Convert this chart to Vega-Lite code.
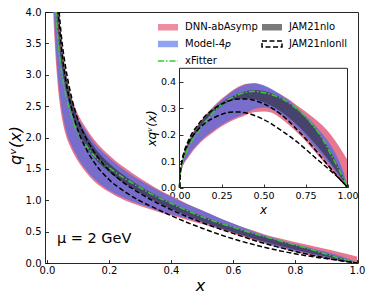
{
  "$schema": "https://vega.github.io/schema/vega-lite/v6.json",
  "width": 313,
  "height": 251,
  "autosize": "none",
  "padding": {"left": 45, "top": 12, "right": 16, "bottom": 36},
  "datasets": {
    "main": [
      {"x": 0.015, "pLo": 4.8, "pHi": 6.13, "bLo": 5.07, "bHi": 5.8, "jLo": 5.87, "jHi": 6.67, "nLo": 6.67, "nHi": 6.87, "g": 5.67},
      {"x": 0.02, "pLo": 4.0, "pHi": 5.25, "bLo": 4.25, "bHi": 4.95, "jLo": 5.0, "jHi": 5.7, "nLo": 5.65, "nHi": 5.85, "g": 4.85},
      {"x": 0.025, "pLo": 3.5, "pHi": 4.7, "bLo": 3.7, "bHi": 4.46, "jLo": 4.4, "jHi": 5.08, "nLo": 5.0, "nHi": 5.2, "g": 4.28},
      {"x": 0.03, "pLo": 3.12, "pHi": 4.27, "bLo": 3.29, "bHi": 4.07, "jLo": 4.0, "jHi": 4.6, "nLo": 4.5, "nHi": 4.67, "g": 3.9},
      {"x": 0.04, "pLo": 2.58, "pHi": 3.68, "bLo": 2.73, "bHi": 3.53, "jLo": 3.425, "jHi": 3.9, "nLo": 3.775, "nHi": 3.95, "g": 3.33},
      {"x": 0.05, "pLo": 2.26, "pHi": 3.3, "bLo": 2.38, "bHi": 3.18, "jLo": 3.04, "jHi": 3.42, "nLo": 3.28, "nHi": 3.46, "g": 2.96},
      {"x": 0.06, "pLo": 2.05, "pHi": 3.02, "bLo": 2.13, "bHi": 2.93, "jLo": 2.77, "jHi": 3.08, "nLo": 2.93, "nHi": 3.12, "g": 2.7},
      {"x": 0.08, "pLo": 1.8, "pHi": 2.62, "bLo": 1.86, "bHi": 2.55, "jLo": 2.39, "jHi": 2.62, "nLo": 2.45, "nHi": 2.625, "g": 2.32},
      {"x": 0.1, "pLo": 1.62, "pHi": 2.37, "bLo": 1.67, "bHi": 2.31, "jLo": 2.1, "jHi": 2.3, "nLo": 2.11, "nHi": 2.28, "g": 2.06},
      {"x": 0.125, "pLo": 1.45, "pHi": 2.16, "bLo": 1.49, "bHi": 2.11, "jLo": 1.86, "jHi": 2.05, "nLo": 1.83, "nHi": 2.0, "g": 1.88},
      {"x": 0.15, "pLo": 1.31, "pHi": 1.98, "bLo": 1.35, "bHi": 1.93, "jLo": 1.69, "jHi": 1.86, "nLo": 1.62, "nHi": 1.787, "g": 1.72},
      {"x": 0.2, "pLo": 1.13, "pHi": 1.72, "bLo": 1.16, "bHi": 1.68, "jLo": 1.45, "jHi": 1.59, "nLo": 1.33, "nHi": 1.48, "g": 1.52},
      {"x": 0.25, "pLo": 1.0, "pHi": 1.52, "bLo": 1.03, "bHi": 1.48, "jLo": 1.27, "jHi": 1.39, "nLo": 1.14, "nHi": 1.27, "g": 1.35},
      {"x": 0.3, "pLo": 0.91, "pHi": 1.35, "bLo": 0.935, "bHi": 1.32, "jLo": 1.12, "jHi": 1.225, "nLo": 0.99, "nHi": 1.11, "g": 1.2},
      {"x": 0.35, "pLo": 0.83, "pHi": 1.2, "bLo": 0.85, "bHi": 1.18, "jLo": 0.985, "jHi": 1.085, "nLo": 0.87, "nHi": 0.97, "g": 1.065},
      {"x": 0.4, "pLo": 0.755, "pHi": 1.07, "bLo": 0.775, "bHi": 1.055, "jLo": 0.865, "jHi": 0.962, "nLo": 0.755, "nHi": 0.85, "g": 0.95},
      {"x": 0.45, "pLo": 0.69, "pHi": 0.95, "bLo": 0.715, "bHi": 0.94, "jLo": 0.76, "jHi": 0.852, "nLo": 0.65, "nHi": 0.743, "g": 0.84},
      {"x": 0.5, "pLo": 0.62, "pHi": 0.84, "bLo": 0.645, "bHi": 0.835, "jLo": 0.66, "jHi": 0.75, "nLo": 0.555, "nHi": 0.645, "g": 0.735},
      {"x": 0.55, "pLo": 0.55, "pHi": 0.73, "bLo": 0.57, "bHi": 0.73, "jLo": 0.573, "jHi": 0.658, "nLo": 0.465, "nHi": 0.556, "g": 0.648},
      {"x": 0.6, "pLo": 0.47, "pHi": 0.63, "bLo": 0.49, "bHi": 0.63, "jLo": 0.49, "jHi": 0.575, "nLo": 0.385, "nHi": 0.472, "g": 0.568},
      {"x": 0.65, "pLo": 0.39, "pHi": 0.54, "bLo": 0.41, "bHi": 0.535, "jLo": 0.41, "jHi": 0.498, "nLo": 0.315, "nHi": 0.39, "g": 0.494},
      {"x": 0.7, "pLo": 0.31, "pHi": 0.46, "bLo": 0.33, "bHi": 0.445, "jLo": 0.337, "jHi": 0.423, "nLo": 0.252, "nHi": 0.314, "g": 0.423},
      {"x": 0.75, "pLo": 0.24, "pHi": 0.393, "bLo": 0.26, "bHi": 0.37, "jLo": 0.273, "jHi": 0.352, "nLo": 0.196, "nHi": 0.248, "g": 0.356},
      {"x": 0.8, "pLo": 0.177, "pHi": 0.333, "bLo": 0.197, "bHi": 0.303, "jLo": 0.2125, "jHi": 0.285, "nLo": 0.147, "nHi": 0.185, "g": 0.2875},
      {"x": 0.85, "pLo": 0.121, "pHi": 0.278, "bLo": 0.141, "bHi": 0.24, "jLo": 0.156, "jHi": 0.219, "nLo": 0.106, "nHi": 0.129, "g": 0.218},
      {"x": 0.9, "pLo": 0.073, "pHi": 0.222, "bLo": 0.091, "bHi": 0.178, "jLo": 0.102, "jHi": 0.15, "nLo": 0.07, "nHi": 0.08, "g": 0.141},
      {"x": 0.95, "pLo": 0.032, "pHi": 0.163, "bLo": 0.044, "bHi": 0.105, "jLo": 0.05, "jHi": 0.079, "nLo": 0.036, "nHi": 0.037, "g": 0.069},
      {"x": 0.98, "pLo": 0.012, "pHi": 0.128, "bLo": 0.017, "bHi": 0.051, "jLo": 0.02, "jHi": 0.034, "nLo": 0.014, "nHi": 0.014, "g": 0.029},
      {"x": 1.0, "pLo": 0, "pHi": 0.105, "bLo": 0, "bHi": 0, "jLo": 0, "jHi": 0, "nLo": 0, "nHi": 0, "g": 0}
    ],
    "inset": [
      {"x": 0, "pLo": 0, "pHi": 0, "bLo": 0, "bHi": 0, "jLo": 0, "jHi": 0, "nLo": 0, "nHi": 0, "g": 0},
      {"x": 0.005, "pLo": 0.045, "pHi": 0.055, "bLo": 0.048, "bHi": 0.052, "jLo": 0.054, "jHi": 0.06, "nLo": 0.058, "nHi": 0.06, "g": 0.052},
      {"x": 0.01, "pLo": 0.062, "pHi": 0.075, "bLo": 0.066, "bHi": 0.07, "jLo": 0.072, "jHi": 0.082, "nLo": 0.082, "nHi": 0.085, "g": 0.07},
      {"x": 0.02, "pLo": 0.08, "pHi": 0.105, "bLo": 0.085, "bHi": 0.099, "jLo": 0.1, "jHi": 0.114, "nLo": 0.113, "nHi": 0.117, "g": 0.097},
      {"x": 0.03, "pLo": 0.093, "pHi": 0.127, "bLo": 0.098, "bHi": 0.121, "jLo": 0.12, "jHi": 0.138, "nLo": 0.135, "nHi": 0.14, "g": 0.117},
      {"x": 0.05, "pLo": 0.111, "pHi": 0.163, "bLo": 0.117, "bHi": 0.157, "jLo": 0.152, "jHi": 0.171, "nLo": 0.164, "nHi": 0.173, "g": 0.147},
      {"x": 0.08, "pLo": 0.138, "pHi": 0.203, "bLo": 0.144, "bHi": 0.197, "jLo": 0.19, "jHi": 0.208, "nLo": 0.196, "nHi": 0.21, "g": 0.182},
      {"x": 0.1, "pLo": 0.153, "pHi": 0.225, "bLo": 0.159, "bHi": 0.219, "jLo": 0.208, "jHi": 0.227, "nLo": 0.211, "nHi": 0.228, "g": 0.2},
      {"x": 0.15, "pLo": 0.184, "pHi": 0.27, "bLo": 0.19, "bHi": 0.264, "jLo": 0.25, "jHi": 0.266, "nLo": 0.242, "nHi": 0.268, "g": 0.245},
      {"x": 0.2, "pLo": 0.208, "pHi": 0.305, "bLo": 0.214, "bHi": 0.3, "jLo": 0.282, "jHi": 0.296, "nLo": 0.262, "nHi": 0.295, "g": 0.283},
      {"x": 0.25, "pLo": 0.23, "pHi": 0.335, "bLo": 0.236, "bHi": 0.33, "jLo": 0.308, "jHi": 0.32, "nLo": 0.276, "nHi": 0.315, "g": 0.313},
      {"x": 0.3, "pLo": 0.248, "pHi": 0.36, "bLo": 0.254, "bHi": 0.356, "jLo": 0.326, "jHi": 0.34, "nLo": 0.284, "nHi": 0.328, "g": 0.335},
      {"x": 0.35, "pLo": 0.262, "pHi": 0.38, "bLo": 0.268, "bHi": 0.377, "jLo": 0.334, "jHi": 0.354, "nLo": 0.285, "nHi": 0.334, "g": 0.35},
      {"x": 0.4, "pLo": 0.275, "pHi": 0.392, "bLo": 0.282, "bHi": 0.39, "jLo": 0.336, "jHi": 0.364, "nLo": 0.281, "nHi": 0.334, "g": 0.36},
      {"x": 0.45, "pLo": 0.285, "pHi": 0.393, "bLo": 0.297, "bHi": 0.394, "jLo": 0.332, "jHi": 0.368, "nLo": 0.271, "nHi": 0.328, "g": 0.363},
      {"x": 0.5, "pLo": 0.287, "pHi": 0.383, "bLo": 0.302, "bHi": 0.386, "jLo": 0.322, "jHi": 0.364, "nLo": 0.257, "nHi": 0.316, "g": 0.358},
      {"x": 0.55, "pLo": 0.282, "pHi": 0.368, "bLo": 0.295, "bHi": 0.371, "jLo": 0.308, "jHi": 0.355, "nLo": 0.239, "nHi": 0.3, "g": 0.35},
      {"x": 0.6, "pLo": 0.262, "pHi": 0.352, "bLo": 0.275, "bHi": 0.352, "jLo": 0.288, "jHi": 0.341, "nLo": 0.218, "nHi": 0.278, "g": 0.338},
      {"x": 0.65, "pLo": 0.237, "pHi": 0.333, "bLo": 0.252, "bHi": 0.329, "jLo": 0.264, "jHi": 0.321, "nLo": 0.196, "nHi": 0.25, "g": 0.32},
      {"x": 0.7, "pLo": 0.208, "pHi": 0.31, "bLo": 0.224, "bHi": 0.302, "jLo": 0.236, "jHi": 0.295, "nLo": 0.172, "nHi": 0.218, "g": 0.296},
      {"x": 0.75, "pLo": 0.176, "pHi": 0.287, "bLo": 0.192, "bHi": 0.272, "jLo": 0.205, "jHi": 0.264, "nLo": 0.145, "nHi": 0.185, "g": 0.267},
      {"x": 0.8, "pLo": 0.14, "pHi": 0.262, "bLo": 0.157, "bHi": 0.24, "jLo": 0.17, "jHi": 0.228, "nLo": 0.117, "nHi": 0.148, "g": 0.23},
      {"x": 0.85, "pLo": 0.103, "pHi": 0.235, "bLo": 0.12, "bHi": 0.203, "jLo": 0.133, "jHi": 0.186, "nLo": 0.09, "nHi": 0.11, "g": 0.185},
      {"x": 0.9, "pLo": 0.066, "pHi": 0.2, "bLo": 0.082, "bHi": 0.16, "jLo": 0.092, "jHi": 0.135, "nLo": 0.063, "nHi": 0.072, "g": 0.127},
      {"x": 0.95, "pLo": 0.03, "pHi": 0.155, "bLo": 0.042, "bHi": 0.1, "jLo": 0.048, "jHi": 0.075, "nLo": 0.034, "nHi": 0.035, "g": 0.066},
      {"x": 0.98, "pLo": 0.012, "pHi": 0.125, "bLo": 0.017, "bHi": 0.05, "jLo": 0.02, "jHi": 0.033, "nLo": 0.014, "nHi": 0.014, "g": 0.028},
      {"x": 1.0, "pLo": 0, "pHi": 0.105, "bLo": 0, "bHi": 0, "jLo": 0, "jHi": 0, "nLo": 0, "nHi": 0, "g": 0}
    ],
    "legend": [
      {"series": "DNN-abAsymp"},
      {"series": "Model-4p"},
      {"series": "xFitter"},
      {"series": "JAM21nlo"},
      {"series": "JAM21nlonll"}
    ]
  },
  "config": {
    "font": "DejaVu Sans",
    "view": {"stroke": "#262626", "strokeWidth": 1},
    "axis": {
      "grid": false, "domain": false, "tickColor": "#000", "tickWidth": 0.8, "tickSize": -3.5,
      "labelColor": "#000", "titleColor": "#000", "labelFont": "DejaVu Sans", "titleFont": "DejaVu Sans",
      "titleFontWeight": "normal", "labelFlush": false, "labelOverlap": false
    },
    "legend": {"labelFont": "DejaVu Sans"}
  },
  "layer": [
    {
      "data": {"name": "main"},
      "layer": [
        {
          "mark": {"type": "area", "interpolate": "monotone", "color": "#e3607c", "opacity": 0.85, "clip": true},
          "encoding": {
            "x": {"field": "x", "type": "quantitative",
              "scale": {"domain": [-0.0065, 1.0032], "nice": false, "zero": false},
              "axis": {"values": [0, 0.2, 0.4, 0.6, 0.8, 1.0], "format": ".1f", "labelFontSize": 10, "labelPadding": 6,
                "title": "x", "titleFontSize": 16, "titleFontStyle": "italic", "titleX": 155, "titleY": 22, "titleBaseline": "middle"}},
            "y": {"field": "pLo", "type": "quantitative",
              "scale": {"domain": [0, 4], "nice": false, "zero": false},
              "axis": {"values": [0, 0.5, 1, 1.5, 2, 2.5, 3, 3.5, 4], "tickCount": 9, "format": ".1f", "labelFontSize": 10, "labelPadding": 7.5,
                "title": "qᵛ(x)", "titleFontSize": 16, "titleFontStyle": "italic", "titleX": -30, "titleY": 133, "titleBaseline": "middle", "titleAngle": 270}},
            "y2": {"field": "pHi"}
          }
        },
        {
          "mark": {"type": "area", "interpolate": "monotone", "color": "#6b6bd0", "opacity": 0.9, "clip": true},
          "encoding": {
            "x": {"field": "x", "type": "quantitative"},
            "y": {"field": "bLo", "type": "quantitative"},
            "y2": {"field": "bHi"}
          }
        },
        {
          "mark": {"type": "area", "interpolate": "monotone", "color": "#202020", "opacity": 0.55, "clip": true},
          "encoding": {
            "x": {"field": "x", "type": "quantitative"},
            "y": {"field": "jLo", "type": "quantitative"},
            "y2": {"field": "jHi"}
          }
        },
        {
          "mark": {"type": "line", "interpolate": "monotone", "color": "#33cc33", "strokeWidth": 1.5, "strokeDash": [6, 2, 1.5, 2], "clip": true},
          "encoding": {
            "x": {"field": "x", "type": "quantitative"},
            "y": {"field": "g", "type": "quantitative"}
          }
        },
        {
          "mark": {"type": "line", "interpolate": "monotone", "color": "#000", "strokeWidth": 1.5, "strokeDash": [5, 2.5], "clip": true},
          "encoding": {
            "x": {"field": "x", "type": "quantitative"},
            "y": {"field": "nLo", "type": "quantitative"}
          }
        },
        {
          "mark": {"type": "line", "interpolate": "monotone", "color": "#000", "strokeWidth": 1.5, "strokeDash": [5, 2.5], "clip": true},
          "encoding": {
            "x": {"field": "x", "type": "quantitative"},
            "y": {"field": "nHi", "type": "quantitative"}
          }
        },
        {
          "data": {"values": [{}]},
          "mark": {"type": "text", "align": "left", "baseline": "middle", "fontSize": 14.5, "color": "#000"},
          "encoding": {
            "x": {"datum": 0.032, "type": "quantitative"},
            "y": {"datum": 0.38, "type": "quantitative",
              "axis": {"values": [0, 0.5, 1, 1.5, 2, 2.5, 3, 3.5, 4], "tickCount": 9, "format": ".1f", "labelFontSize": 10, "labelPadding": 7.5,
                "title": "qᵛ(x)", "titleFontSize": 16, "titleFontStyle": "italic", "titleX": -30, "titleY": 133, "titleBaseline": "middle", "titleAngle": 270}},
            "text": {"value": "μ = 2 GeV"}
          }
        },
        {
          "data": {"name": "legend"},
          "mark": {"type": "point", "filled": false, "opacity": 0, "strokeWidth": 1.5},
          "encoding": {
            "x": {"datum": 0.5, "type": "quantitative"},
            "y": {"datum": 2, "type": "quantitative"},
            "stroke": {"field": "series", "type": "nominal",
              "scale": {"domain": ["DNN-abAsymp", "Model-4p", "xFitter", "JAM21nlo", "JAM21nlonll"],
                        "range": ["#ee8ca0", "#8fa3ee", "#33cc33", "#7a7a7a", "#000000"]},
              "legend": {
                "title": null, "orient": "none", "legendX": 112, "legendY": 4, "columns": 2, "padding": 0,
                "labelFontSize": 10, "labelColor": "#000", "labelOffset": 6, "columnPadding": 1, "rowPadding": -1.9,
                "symbolSize": 400, "symbolOpacity": 1, "symbolStrokeWidth": 1.5,
                "labelExpr": "datum.value == 'Model-4p' ? 'Model-4𝑝' : datum.label"
              }},
            "shape": {"field": "series", "type": "nominal",
              "scale": {"domain": ["DNN-abAsymp", "Model-4p", "xFitter", "JAM21nlo", "JAM21nlonll"],
                        "range": [
                          "M-1,-0.25L1,-0.25M-1,-0.15L1,-0.15M-1,-0.05L1,-0.05M-1,0.05L1,0.05M-1,0.15L1,0.15M-1,0.25L1,0.25",
                          "M-1,-0.25L1,-0.25M-1,-0.15L1,-0.15M-1,-0.05L1,-0.05M-1,0.05L1,0.05M-1,0.15L1,0.15M-1,0.25L1,0.25",
                          "M-1,0L1,0",
                          "M-1,-0.25L1,-0.25M-1,-0.15L1,-0.15M-1,-0.05L1,-0.05M-1,0.05L1,0.05M-1,0.15L1,0.15M-1,0.25L1,0.25",
                          "M-1,-0.3L1,-0.3L1,0.3L-1,0.3Z"]}},
            "strokeDash": {"field": "series", "type": "nominal",
              "scale": {"domain": ["DNN-abAsymp", "Model-4p", "xFitter", "JAM21nlo", "JAM21nlonll"],
                        "range": [[1, 0], [1, 0], [6, 2, 1.5, 2], [1, 0], [5, 2.5]]}}
          }
        }
      ]
    },
    {
      "data": {"name": "inset"},
      "layer": [
        {
          "mark": {"type": "area", "interpolate": "monotone", "color": "#e3607c", "opacity": 0.85},
          "encoding": {
            "x": {"field": "x", "type": "quantitative",
              "scale": {"domain": [0, 1], "range": [134.5, 302.5], "nice": false, "zero": false},
              "axis": {"orient": "bottom", "offset": -75.5, "values": [0, 0.25, 0.5, 0.75, 1.0], "format": ".2f", "labelFontSize": 9.5, "labelPadding": 6,
                "title": "x", "titleFontSize": 12, "titleFontStyle": "italic", "titleX": 218, "titleY": 22, "titleBaseline": "middle"}},
            "y": {"field": "pLo", "type": "quantitative",
              "scale": {"domain": [0, 0.45], "range": [175.5, 56.3], "nice": false, "zero": false},
              "axis": {"orient": "left", "offset": -134.5, "values": [0, 0.1, 0.2, 0.3, 0.4], "format": ".1f", "labelFontSize": 9.5, "labelPadding": 7.5,
                "title": "xqᵛ(x)", "titleFontSize": 12, "titleFontStyle": "italic", "titleX": -28, "titleY": 116, "titleBaseline": "middle", "titleAngle": 270}},
            "y2": {"field": "pHi"}
          }
        },
        {
          "mark": {"type": "area", "interpolate": "monotone", "color": "#6b6bd0", "opacity": 0.9},
          "encoding": {
            "x": {"field": "x", "type": "quantitative"},
            "y": {"field": "bLo", "type": "quantitative"},
            "y2": {"field": "bHi"}
          }
        },
        {
          "mark": {"type": "area", "interpolate": "monotone", "color": "#202020", "opacity": 0.55},
          "encoding": {
            "x": {"field": "x", "type": "quantitative"},
            "y": {"field": "jLo", "type": "quantitative"},
            "y2": {"field": "jHi"}
          }
        },
        {
          "mark": {"type": "line", "interpolate": "monotone", "color": "#33cc33", "strokeWidth": 1.5, "strokeDash": [6, 2, 1.5, 2]},
          "encoding": {
            "x": {"field": "x", "type": "quantitative"},
            "y": {"field": "g", "type": "quantitative"}
          }
        },
        {
          "mark": {"type": "line", "interpolate": "monotone", "color": "#000", "strokeWidth": 1.5, "strokeDash": [5, 2.5]},
          "encoding": {
            "x": {"field": "x", "type": "quantitative"},
            "y": {"field": "nLo", "type": "quantitative"}
          }
        },
        {
          "mark": {"type": "line", "interpolate": "monotone", "color": "#000", "strokeWidth": 1.5, "strokeDash": [5, 2.5]},
          "encoding": {
            "x": {"field": "x", "type": "quantitative"},
            "y": {"field": "nHi", "type": "quantitative"}
          }
        },
        {
          "data": {"values": [{}]},
          "mark": {"type": "rect", "fill": null, "stroke": "#262626", "strokeWidth": 1},
          "encoding": {
            "x": {"datum": 0, "type": "quantitative"},
            "x2": {"datum": 1},
            "y": {"datum": 0, "type": "quantitative"},
            "y2": {"datum": 0.45}
          }
        }
      ]
    }
  ],
  "resolve": {"scale": {"x": "independent", "y": "independent"}}
}
